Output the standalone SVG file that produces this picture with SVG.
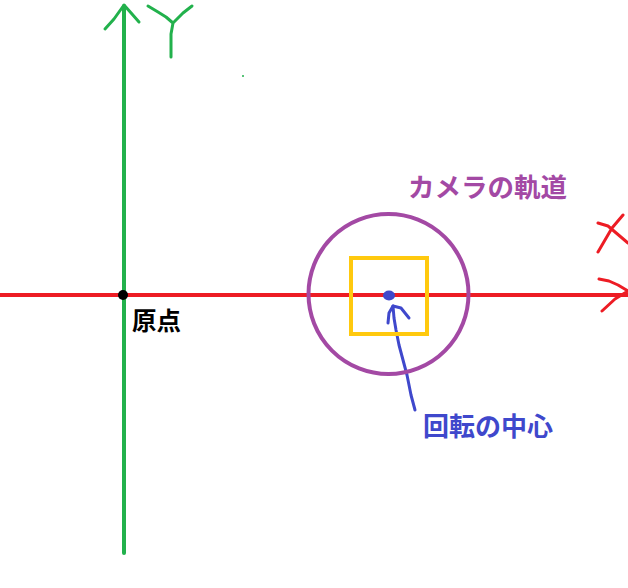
<svg xmlns="http://www.w3.org/2000/svg" width="628" height="588" viewBox="0 0 628 588">
<style>
.g{stroke:#22b14c;fill:none;stroke-linecap:round;stroke-linejoin:round}
.r{stroke:#ed1c24;fill:none;stroke-linecap:round;stroke-linejoin:round}
.b{stroke:#3f48cc;fill:none;stroke-linecap:round;stroke-linejoin:round}
.t{font-family:"Noto Sans CJK JP","Noto Sans",sans-serif;font-weight:bold}
</style>
<rect width="628" height="588" fill="#ffffff"/>
<g id="connectors">
<g id="y-axis">
<line class="g" x1="124" y1="6" x2="124" y2="553" stroke-width="4"/>
<path class="g" d="M105,29 L114,19 L124,5 L132,14 L139,22" stroke-width="3"/>
<path class="g" d="M148,6 L158,12 L166,17 L173,23 L183,13 L192,6 M173,23 L171,34 L171,57" stroke-width="3"/>
<circle cx="243" cy="76" r="1" fill="#22b14c"/>
</g>
<g id="x-axis">
<line class="r" x1="0" y1="295" x2="628" y2="295" stroke-width="4"/>
<path class="r" d="M599,279 L609,281 L618,285 L628,291 L615,299 L602,311" stroke-width="3"/>
<path class="r" d="M598,223 L608,226 L628,243 M623,215 L612,228 L598,252" stroke-width="3"/>
</g>
<g id="pointer">
<path class="b" d="M415,410 L411,395 L407,375 L403,360 L399,345 L396,330 L394,318 L393,306" stroke-width="3"/>
<path class="b" d="M388,323 L389,313 L393,306 L401,308 L409,318" stroke-width="3"/>
</g>
</g>
<g id="orbit">
<circle cx="388.5" cy="294" r="80" fill="none" stroke="#a349a4" stroke-width="4"/>
</g>
<g id="camera">
<rect x="351" y="258" width="76" height="76" fill="none" stroke="#ffc90e" stroke-width="4"/>
</g>
<g id="center">
<ellipse cx="389" cy="295.5" rx="6" ry="5" fill="#3f48cc"/>
</g>
<g id="origin">
<circle cx="123" cy="295" r="5" fill="#000000"/>
<text class="t" x="132" y="330" font-size="24.5" fill="#000000">原点</text>
</g>
<g id="orbit-label">
<text class="t" x="408" y="197" font-size="26.5" fill="#a349a4">カメラの軌道</text>
</g>
<g id="center-label">
<text class="t" x="423" y="436" font-size="26" fill="#3f48cc">回転の中心</text>
</g>
</svg>
